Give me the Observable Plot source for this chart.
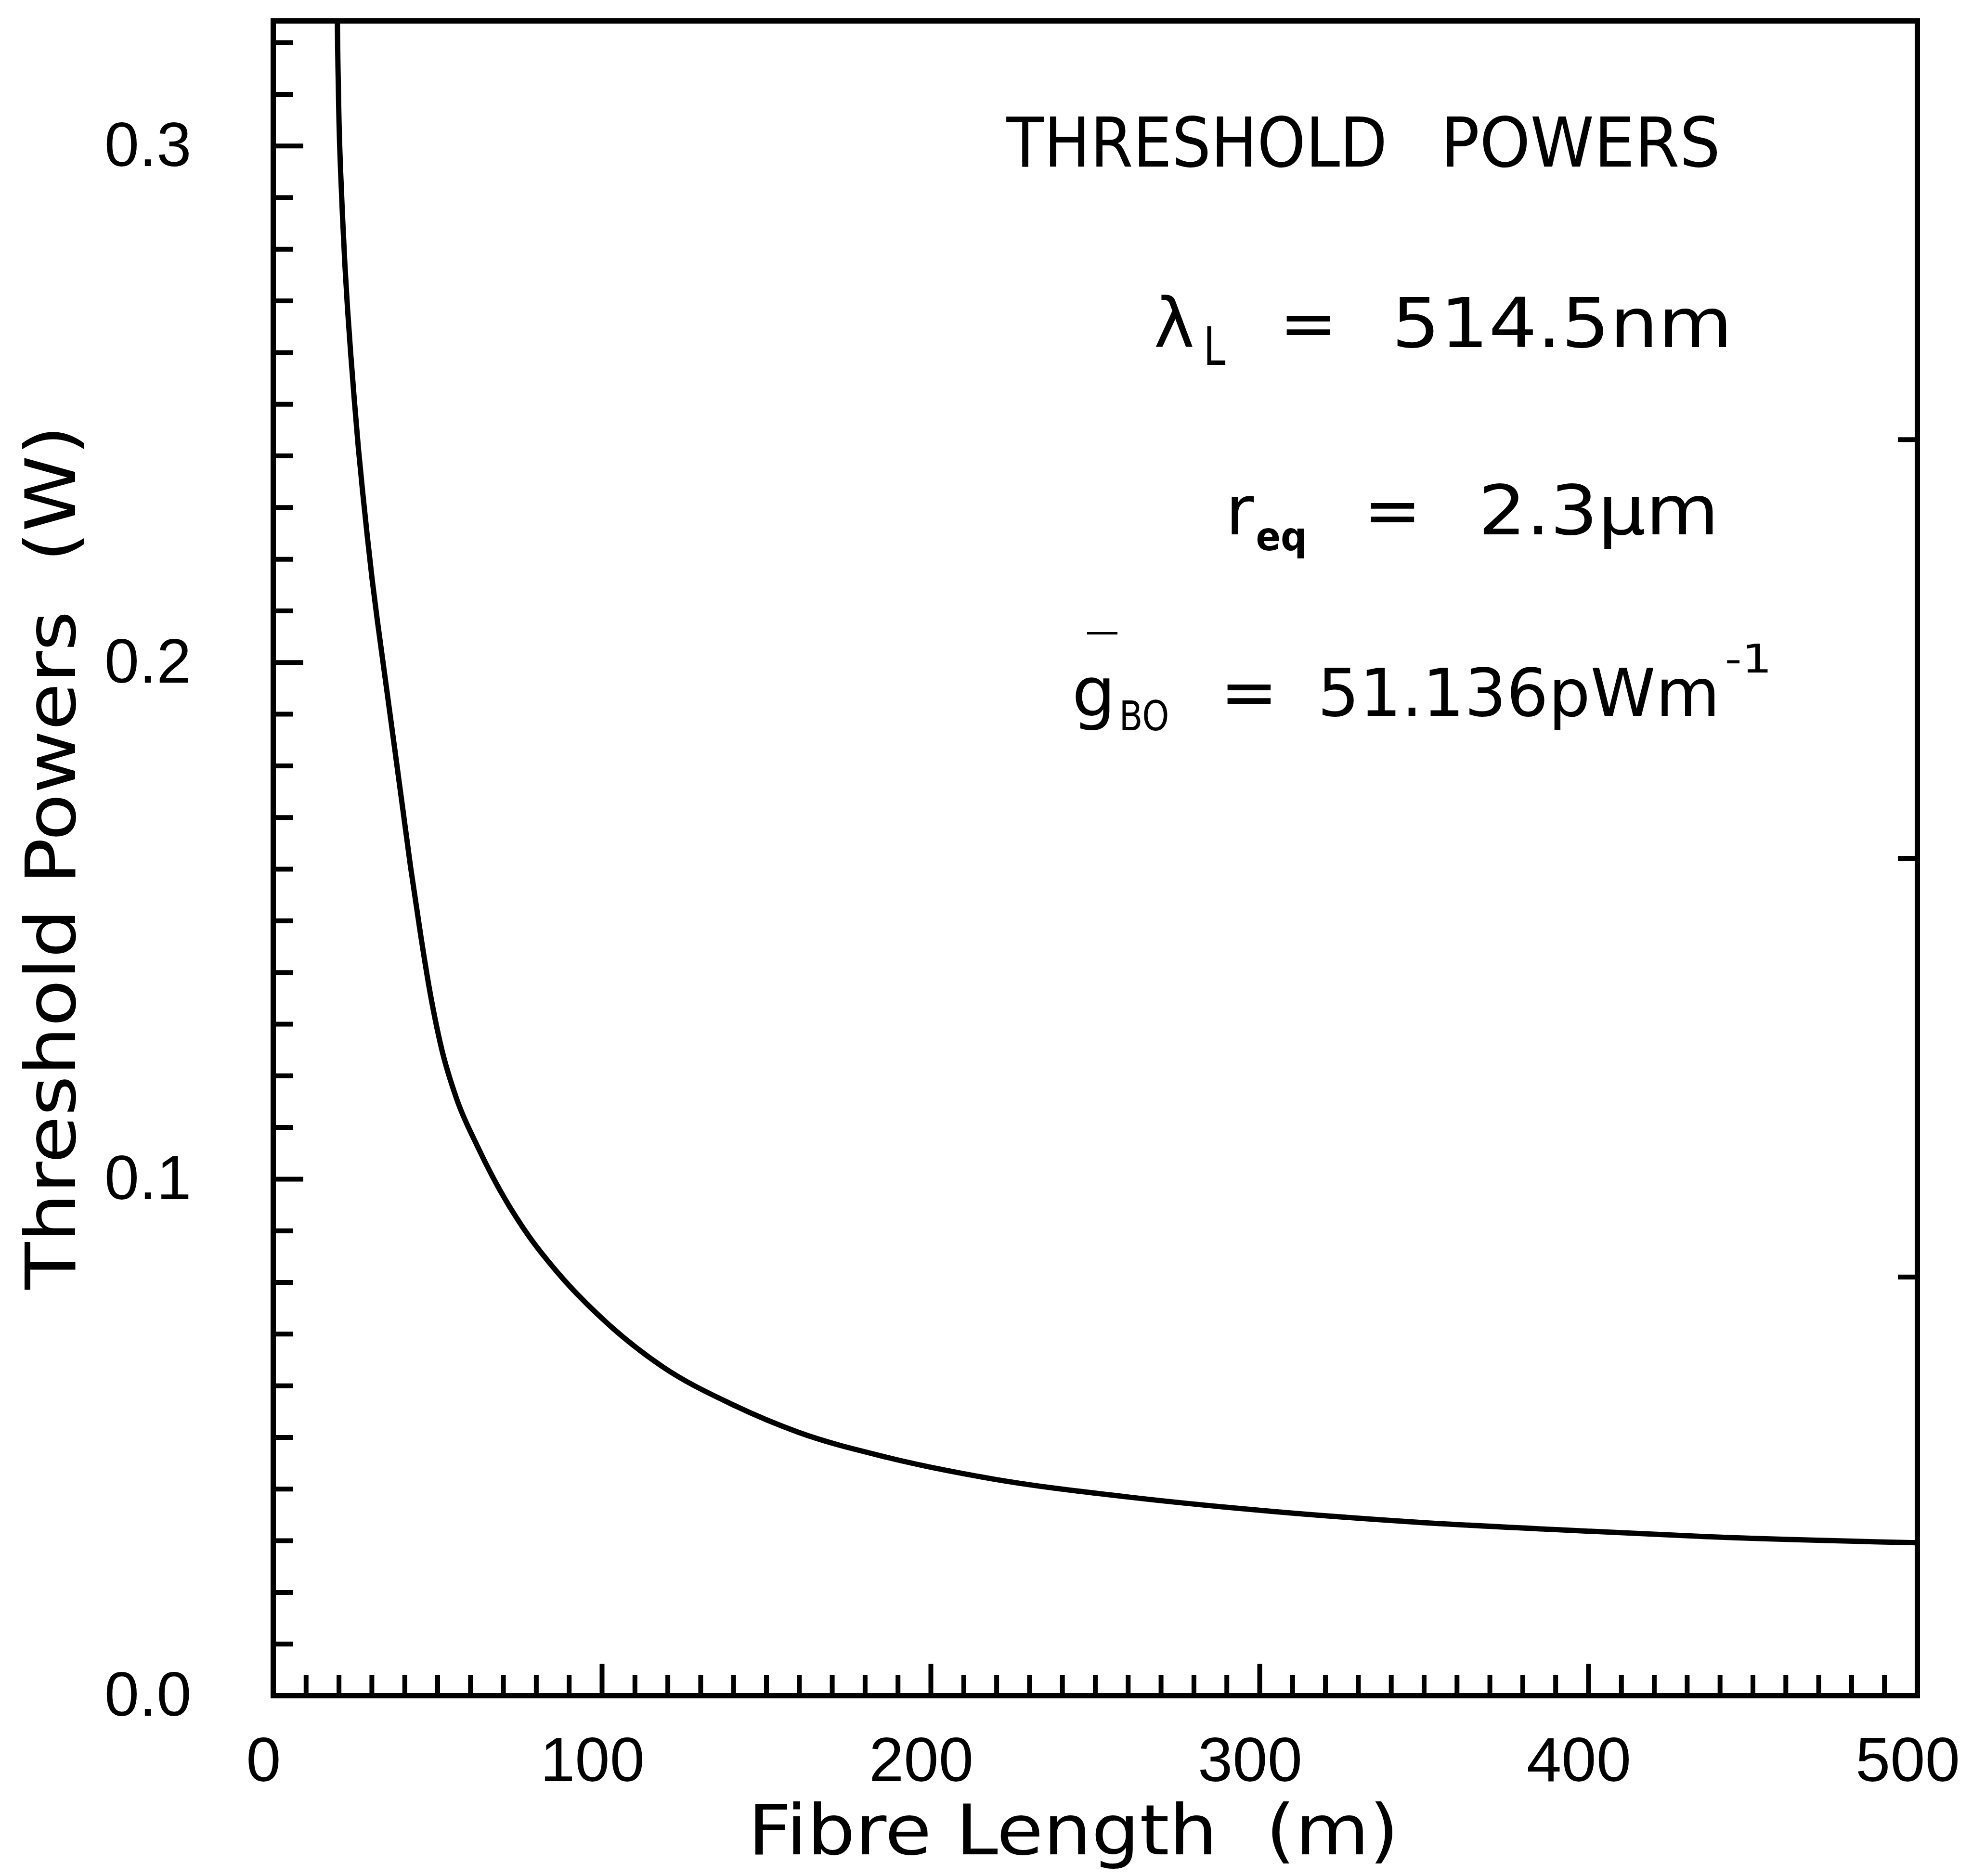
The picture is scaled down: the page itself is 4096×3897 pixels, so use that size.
<!DOCTYPE html>
<html>
<head>
<meta charset="utf-8">
<script src="https://cdn.jsdelivr.net/npm/d3@7"></script>
<script src="https://cdn.jsdelivr.net/npm/@observablehq/plot@0.6"></script>
<style>
  html, body { margin: 0; padding: 0; background: #fff; }
  svg { display: block; }
</style>
</head>
<body>
<div id="chart"></div>
<script>
// ---------------- data ----------------
const fibreLength = [19.5, 19.7, 20.0, 20.5, 21.1, 21.8, 22.6, 23.6, 24.7, 25.9, 27.2, 28.6, 30.1, 31.7, 33.4, 36.8, 39.5, 41.8, 44.9, 47.4, 51.3, 55.8, 62.0, 69.0, 77.7, 86.1, 100.9, 118.6, 139.2, 159.7, 186.3, 218.5, 259.6, 303.6, 347.6, 391.7, 435.7, 500];
const thresholdPower = [0.3242, 0.315, 0.305, 0.295, 0.286, 0.277, 0.2685, 0.2595, 0.2505, 0.2415, 0.2330, 0.2245, 0.2160, 0.2080, 0.2000, 0.1840, 0.1712, 0.1603, 0.1470, 0.1372, 0.1250, 0.1155, 0.1065, 0.0978, 0.0890, 0.0822, 0.0725, 0.0636, 0.0565, 0.0510, 0.0462, 0.0420, 0.0385, 0.0357, 0.0336, 0.0321, 0.0308, 0.0296];

const xDomain = [0, 500];
const yDomain = [0, 0.3242];
const xTickLabels = [0, 100, 200, 300, 400, 500];
const xMajorTicks = [100, 200, 300, 400];
const yTickLabels = [0.0, 0.1, 0.2, 0.3];
const yMajorTicks = [0.1, 0.2, 0.3];
const rightTickFractions = [0.25, 0.5, 0.75];

const xTitle = "Fibre Length  (m)";
const yTitle = "Threshold Powers  (W)";
const annotationText = ["THRESHOLD", "POWERS", "λ", "L", "=", "514.5nm", "r", "eq", "=", "2.3μm", "g", "—", "BO", "=", "51.136pWm", "-1"];

// ---------------- layout ----------------
const W = 4096, H = 3897;
const ML = 567, MR = 114, MT = 43, MB = 375;
const FW = W - ML - MR, FH = H - MT - MB;
const FONT = "DejaVu Sans";
const TICKFONT = "Liberation Sans";
const SW = 10;

const xMinorTicks = d3.range(10, 500, 10).filter(v => !xMajorTicks.includes(v));
const yMinorTicks = d3.range(1, 33).map(v => v / 100).filter(v => !yMajorTicks.some(m => Math.abs(m - v) < 1e-9));
const rightTicks = rightTickFractions.map(f => f * yDomain[1]);

const curveData = fibreLength.map((L, i) => ({L, P: thresholdPower[i]}));

// annotation piece placement (absolute px: left x, baseline y)
const annoLayout = [
  {X: 2090, Y: 345, size: 143, w: 791},
  {X: 2992, Y: 345, size: 143, w: 581},
  {X: 2396, Y: 720, size: 143},
  {X: 2499, Y: 757, size: 111, w: 46},
  {X: 2657, Y: 720, size: 143},
  {X: 2890, Y: 720, size: 143, w: 708},
  {X: 2545, Y: 1109, size: 143},
  {X: 2608, Y: 1142, size: 82, w: 106, weight: "bold"},
  {X: 2832, Y: 1109, size: 143},
  {X: 3070, Y: 1109, size: 143, w: 500},
  {X: 2226, Y: 1486, size: 143},
  {X: 2254, Y: 1334, size: 70, w: 70},
  {X: 2324, Y: 1516, size: 85, w: 104},
  {X: 2534, Y: 1486, size: 143},
  {X: 2736, Y: 1486, size: 137, w: 836},
  {X: 3582, Y: 1396, size: 82, w: 98}
];

const annoMarks = annotationText.map((s, i) => {
  const l = annoLayout[i];
  return Plot.text([s], {
    text: d => d,
    frameAnchor: "top-left",
    dx: l.X - ML,
    dy: l.Y - MT,
    lineAnchor: "bottom",
    textAnchor: "start",
    fontSize: l.size,
    fontFamily: FONT,
    fontWeight: l.weight || "normal",
    fill: "black"
  });
});

const chart = Plot.plot({
  width: W,
  height: H,
  marginLeft: ML,
  marginRight: MR,
  marginTop: MT,
  marginBottom: MB,
  style: {background: "white", color: "black", fontFamily: FONT},
  x: {domain: xDomain},
  y: {domain: yDomain},
  marks: [
    // ticks (inward)
    Plot.tickX(xMinorTicks, {x: d => d, insetTop: FH - 43, strokeWidth: SW, stroke: "black"}),
    Plot.tickX(xMajorTicks, {x: d => d, insetTop: FH - 66, strokeWidth: SW, stroke: "black"}),
    Plot.tickY(yMinorTicks, {y: d => d, insetRight: FW - 42, strokeWidth: SW, stroke: "black"}),
    Plot.tickY(yMajorTicks, {y: d => d, insetRight: FW - 63, strokeWidth: SW, stroke: "black"}),
    Plot.tickY(rightTicks, {y: d => d, insetLeft: FW - 40, strokeWidth: SW, stroke: "black"}),
    // curve
    Plot.line(curveData, {x: "L", y: "P", curve: "monotone-x", stroke: "black", strokeWidth: 11, clip: "frame"}),
    // frame
    Plot.frame({stroke: "black", strokeWidth: 11}),
    // tick labels
    Plot.axisX(xTickLabels, {tickSize: 0, tickPadding: 85, fontSize: 130, fontFamily: TICKFONT, label: null, dx: -20, tickFormat: d3.format("d")}),
    Plot.axisY(yTickLabels, {tickSize: 0, tickPadding: 170, fontSize: 130, fontFamily: TICKFONT, label: null, tickFormat: d3.format(".1f")}),
    // axis titles
    Plot.text([xTitle], {text: d => d, frameAnchor: "top-left", dx: 1553 - ML, dy: 3851 - MT, lineAnchor: "bottom", textAnchor: "start", fontSize: 144, fontFamily: FONT}),
    Plot.text([yTitle], {text: d => d, frameAnchor: "top-left", dx: 155 - ML, dy: 2678 - MT, rotate: -90, lineAnchor: "bottom", textAnchor: "start", fontSize: 144, fontFamily: FONT}),
    ...annoMarks
  ]
});

// exact text extents (matched by content)
const fits = new Map();
annoLayout.forEach((l, i) => { if (l.w) fits.set(annotationText[i], l.w); });
fits.set(xTitle, 1352);
fits.set(yTitle, 1795);
chart.querySelectorAll("text").forEach(t => {
  const w = fits.get(t.textContent);
  if (w) { t.setAttribute("textLength", w); t.setAttribute("lengthAdjust", "spacingAndGlyphs"); }
});

document.getElementById("chart").appendChild(chart);
</script>
</body>
</html>
